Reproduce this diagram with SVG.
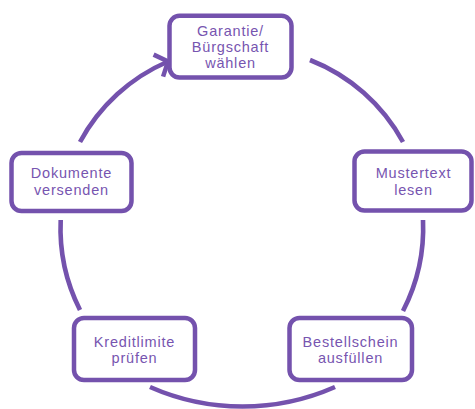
<svg xmlns="http://www.w3.org/2000/svg" width="475" height="409" viewBox="0 0 475 409">
  <style>
    .box { fill: #ffffff; stroke: #7452ad; stroke-width: 4.5; }
    .lbl { font-family: "Liberation Sans", Arial, sans-serif; font-size: 14.5px; letter-spacing: 0.8px; fill: #7755b0; text-anchor: middle; }
    .arc { fill: none; stroke: #7452ad; stroke-width: 4.6; stroke-linecap: butt; }
  </style>
  <defs>
    <marker id="chev" markerUnits="userSpaceOnUse" markerWidth="30" markerHeight="30" viewBox="-15 -15 30 30" refX="0" refY="0" orient="auto">
      <path d="M -10.5 -12 L 0 0 L -10.5 12" fill="none" stroke="#7452ad" stroke-width="4.5" stroke-linejoin="miter"/>
    </marker>
  </defs>
  <rect width="475" height="409" fill="#ffffff"/>
  <g id="connectors">
    <path class="arc" d="M 80 142 A 181 181 0 0 1 168 61.5" marker-end="url(#chev)"/>
    <path class="arc" d="M 310 60 A 181 181 0 0 1 403 142"/>
    <path class="arc" d="M 423 220 A 181 181 0 0 1 403 311"/>
    <path class="arc" d="M 335 387 A 229 229 0 0 1 150 387"/>
    <path class="arc" d="M 80 310 A 181 181 0 0 1 60.7 220"/>
  </g>
  <g id="garantie">
    <rect class="box" x="169.5" y="15.8" width="122" height="61.7" rx="10"/>
    <text class="lbl" x="230.5" y="36">Garantie/</text>
    <text class="lbl" x="230.5" y="52">Bürgschaft</text>
    <text class="lbl" x="230.5" y="68">wählen</text>
  </g>
  <g id="mustertext">
    <rect class="box" x="354.5" y="151.5" width="117" height="59" rx="10"/>
    <text class="lbl" x="413.5" y="178.3">Mustertext</text>
    <text class="lbl" x="413.5" y="195">lesen</text>
  </g>
  <g id="bestellschein">
    <rect class="box" x="289.5" y="318" width="122.5" height="62" rx="10"/>
    <text class="lbl" x="350.5" y="346.7">Bestellschein</text>
    <text class="lbl" x="350.5" y="363.3">ausfüllen</text>
  </g>
  <g id="kreditlimite">
    <rect class="box" x="74" y="318" width="121" height="62" rx="10"/>
    <text class="lbl" x="134.5" y="346.7">Kreditlimite</text>
    <text class="lbl" x="134.5" y="363.3">prüfen</text>
  </g>
  <g id="dokumente">
    <rect class="box" x="11.5" y="153" width="120" height="58" rx="10"/>
    <text class="lbl" x="71.5" y="178.3">Dokumente</text>
    <text class="lbl" x="71.5" y="195">versenden</text>
  </g>
</svg>
